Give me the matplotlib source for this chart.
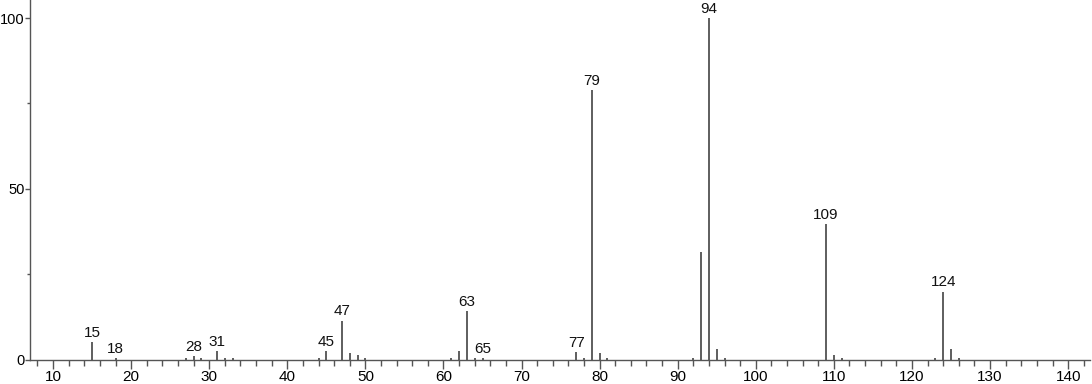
import matplotlib
matplotlib.use("Agg")
import matplotlib.pyplot as plt
from matplotlib.ticker import MultipleLocator

mz = [15, 18, 27, 28, 29, 31, 32, 33, 44, 45, 47, 48, 49, 50, 61, 62, 63, 64, 65,
      77, 78, 79, 80, 81, 92, 93, 94, 95, 96, 109, 110, 111, 123, 124, 125, 126]
intensity = [5.0, 0.5, 0.5, 1.0, 0.5, 2.6, 0.5, 0.5, 0.5, 2.6, 11.4, 1.8, 1.2, 0.5, 0.5, 2.6, 14.3, 0.3, 0.3,
             2.3, 0.5, 79.0, 2.0, 0.5, 0.5, 31.6, 100.0, 3.0, 0.5, 39.8, 1.2, 0.5, 0.3, 19.9, 3.0, 0.5]
labeled = [15, 18, 28, 31, 45, 47, 63, 65, 77, 79, 94, 109, 124]

plt.rcParams['font.family'] = ['Liberation Sans', 'DejaVu Sans']

fig = plt.figure(figsize=(10.92, 3.84), dpi=100)
ax = fig.add_axes([30/1092, 24.5/384, 1060/1092, 359.5/384])

ax.vlines(mz, 0, intensity, colors='#333333', linewidth=1.1)
for m, v in zip(mz, intensity):
    if m in labeled:
        ax.annotate(str(m), (m, v), xytext=(0, 1.5), textcoords='offset points',
                    ha='center', va='bottom', fontsize=11, color='#111111')

ax.set_xlim(7.05, 142.8)
ax.set_ylim(0, 105.3)
ax.spines['top'].set_visible(False)
ax.spines['right'].set_visible(False)
for s in ('left', 'bottom'):
    ax.spines[s].set_color('#555555')
    ax.spines[s].set_linewidth(1.0)

ax.xaxis.set_major_locator(MultipleLocator(10))
ax.xaxis.set_minor_locator(MultipleLocator(2))
ax.yaxis.set_major_locator(MultipleLocator(50))
ax.yaxis.set_minor_locator(MultipleLocator(25))
ax.tick_params(axis='x', which='major', direction='out', length=6.5, width=1, color='#555555',
               labelsize=11, pad=1)
ax.tick_params(axis='x', which='minor', direction='out', length=4, width=1, color='#555555')
ax.tick_params(axis='y', which='major', direction='out', length=3.5, width=1, color='#555555',
               labelsize=10.5, pad=0.5)
ax.tick_params(axis='y', which='minor', direction='out', length=2, width=1, color='#555555')

fig.savefig('out.png', dpi=100)
